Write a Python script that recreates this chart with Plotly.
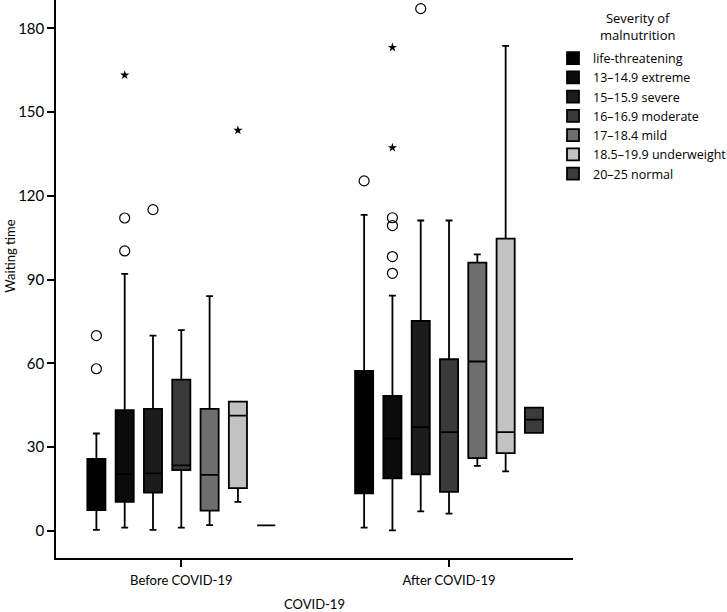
import plotly.graph_objects as go

periods = ["Before COVID-19", "After COVID-19"]
severity = ["life-threatening", "13–14.9 extreme", "15–15.9 severe",
            "16–16.9 moderate", "17–18.4 mild", "18.5–19.9 underweight",
            "20–25 normal"]
fill_colors = ["#000000", "#0b0b0b", "#1c1c1c", "#3a3a3a", "#6e6e6e",
               "#c2c2c2", "#3b3b3b"]

# [before, after] per severity group
lower_whisker = [[0.4, 1.2], [1.2, 0.2], [0.4, 7.0], [1.2, 6.2], [2.1, 23.3], [10.4, 21.3], [2.0, 35.1]]
q1_vals       = [[7.5, 13.5], [10.4, 18.8], [13.7, 20.3], [21.8, 14.0], [7.3, 26.1], [15.3, 27.9], [2.0, 35.1]]
median_vals   = [[16.0, 33.0], [20.4, 33.1], [20.6, 37.2], [23.5, 35.4], [20.1, 60.7], [41.3, 35.4], [2.0, 39.9]]
q3_vals       = [[25.8, 57.3], [43.3, 48.4], [43.7, 75.2], [54.2, 61.5], [43.7, 96.1], [46.3, 104.7], [2.0, 44.2]]
upper_whisker = [[34.9, 113.2], [92.1, 84.3], [70.0, 111.2], [71.9, 111.2], [84.1, 99.1], [46.3, 173.8], [2.0, 44.2]]
outliers      = [[[70.0, 58.1], [125.4]],
                 [[100.3, 112.1], [92.3, 98.3, 109.4, 112.2]],
                 [[115.1], [187.1]],
                 [[], []],
                 [[], []],
                 [[], []],
                 [[], []]]
extremes      = [[[], []],
                 [[163.3], [137.3, 173.2]],
                 [[], []],
                 [[], []],
                 [[], []],
                 [[143.5], []],
                 [[], []]]

fig = go.Figure()
for i, name in enumerate(severity):
    has_out = any(len(o) for o in outliers[i])
    fig.add_trace(go.Box(
        name=name, x=periods,
        q1=q1_vals[i], median=median_vals[i], q3=q3_vals[i],
        lowerfence=lower_whisker[i], upperfence=upper_whisker[i],
        y=outliers[i] if has_out else None,
        boxpoints="outliers" if has_out else False,
        fillcolor=fill_colors[i],
        line=dict(color="#000000", width=1.8),
        whiskerwidth=0.38,
        marker=dict(symbol="circle-open", size=10, color="#000000",
                    line=dict(width=1.2, color="#000000")),
        offsetgroup=name, legendgroup=name,
        hoverinfo="skip",
    ))
    # extreme outliers (stars)
    xs = [p for p, e in zip(periods, extremes[i]) if e]
    if xs:
        ev = [e for e in extremes[i] if e]
        fig.add_trace(go.Box(
            name=name, x=xs,
            q1=[e[0] for e in ev], median=[e[0] for e in ev], q3=[e[0] for e in ev],
            lowerfence=[e[0] for e in ev], upperfence=[e[0] for e in ev],
            y=ev, boxpoints="all", jitter=0, pointpos=0,
            fillcolor="rgba(0,0,0,0)",
            line=dict(color="rgba(0,0,0,0)", width=0),
            whiskerwidth=0,
            marker=dict(symbol="star", size=7, color="#000000"),
            offsetgroup=name, legendgroup=name, showlegend=False,
            hoverinfo="skip",
        ))

FONT = "Lato"
fig.update_layout(
    width=727, height=612,
    margin=dict(l=56, r=154, t=0, b=54, autoexpand=False),
    paper_bgcolor="white", plot_bgcolor="white",
    font=dict(family=FONT, size=13, color="#000000"),
    boxmode="group", boxgap=0.26, boxgroupgap=0.36,
    showlegend=True,
    legend=dict(
        x=(553 - 56) / 517, y=0.922, xanchor="left", yanchor="top",
        font=dict(family="Open Sans", size=12.5), tracegroupgap=0, itemwidth=30,
        bgcolor="rgba(0,0,0,0)",
    ),
    annotations=[
        dict(text="Severity of<br>malnutrition", xref="paper", yref="paper",
             x=(637.5 - 56) / 517, y=0.988, xanchor="center", yanchor="top",
             showarrow=False, font=dict(family="Open Sans", size=13), align="center"),
        dict(text="Waiting time", xref="paper", yref="paper",
             x=-56 / 517, y=0.54, xanchor="left", yanchor="middle",
             textangle=-90, showarrow=False, font=dict(size=13)),
    ],
    xaxis=dict(
        type="category", range=[-0.468, 1.463], automargin=False,
        showline=True, linecolor="#000000", linewidth=1.5,
        ticks="outside", ticklen=7, tickcolor="#000000", tickwidth=1.5,
        showgrid=False, zeroline=False, ticklabelstandoff=3,
        title=dict(text="COVID-19", standoff=14, font=dict(size=13)),
        tickfont=dict(size=13),
    ),
    yaxis=dict(
        range=[-9.7, 190.2], automargin=False,
        tickvals=[0, 30, 60, 90, 120, 150, 180],
        showline=True, linecolor="#000000", linewidth=1.5,
        ticks="outside", ticklen=7, tickcolor="#000000", tickwidth=1.5,
        showgrid=False, zeroline=False,
        tickfont=dict(size=15),
    ),
)

fig.write_html("out.html", config={"displayModeBar": False},
               post_script="document.body.style.margin='0';")
